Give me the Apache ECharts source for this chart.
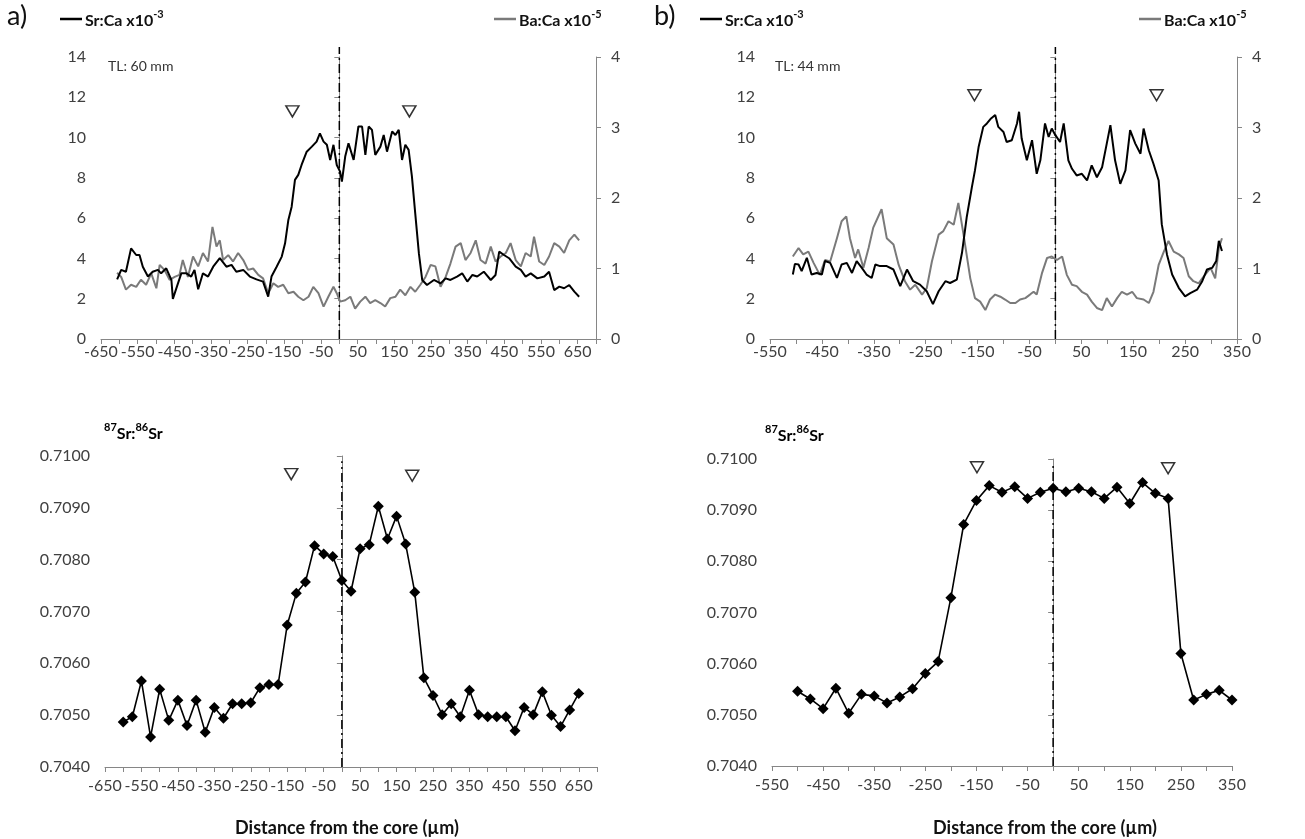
<!DOCTYPE html>
<html style="height: 100%">
  <head>
    <meta charset="utf-8">
  </head>
  <body style="height: 100%; margin: 0; background: #fff">
    <div id="container" style="width: 1305px; height: 839px"></div>
    <script type="text/javascript" src="https://cdn.jsdelivr.net/npm/echarts@6.0.0/dist/echarts.min.js"></script>
    <script type="text/javascript">
// ---- panel a (TL 60 mm) : laser trace ----
var srDistA = [-606,-595,-582,-568,-554,-545,-536,-522,-509,-495,-486,-472,-458,-454,-443,-431,-417,-404,-395,-385,
  -372,-358,-344,-326,-308,-294,-281,-262,-244,-226,-208,-194,-185,-171,-157,-148,-139,-130,-121,-112,
  -103,-89,-75,-62,-53,-43,-34,-25,-16,-7,2,7,16,25,39,52,62,71,80,89,98,112,121,130,144,153,162,171,180,189,
  198,207,217,226,239,258,276,290,303,321,335,349,363,376,394,413,426,436,449,463,481,495,508,522,540,559,572,586,600,613,
  627,641,654];
var srA = [2.96,3.43,3.34,4.50,4.17,4.17,3.59,3.10,3.34,3.43,3.26,3.51,2.93,1.99,2.60,3.26,3.26,3.10,3.43,2.47,
  3.26,3.10,3.59,4.01,3.59,3.68,3.34,3.43,3.10,2.96,2.85,2.10,3.10,3.59,4.09,4.75,5.91,6.57,7.90,8.15,
  8.64,9.30,9.55,9.80,10.21,9.80,9.64,8.89,9.64,8.64,8.31,7.81,9.06,9.72,8.89,10.55,10.55,9.14,10.55,10.38,
  9.14,9.55,10.13,9.30,10.30,10.13,10.38,8.89,9.64,9.39,8.06,6.24,4.25,2.93,2.68,2.93,2.76,3.01,2.93,3.10,
  3.26,2.85,3.18,3.10,3.34,2.93,3.18,4.34,4.17,4.01,3.59,3.43,3.10,3.26,3.01,3.10,3.34,2.43,2.60,2.52,
  2.68,2.35,2.10];
var baDistA = [-606,-595,-582,-568,-554,-541,-527,-513,-499,-490,-477,-463,-449,-436,-427,-413,-399,-385,-372,-358,
  -346,-335,-326,-317,-303,-290,-276,-262,-249,-235,-221,-208,-194,-180,-167,-153,-139,-125,-112,-98,
  -84,-71,-57,-43,-30,-16,-7,2,16,30,43,57,71,84,98,112,125,139,153,166,180,194,207,221,235,249,262,276,290,303,
  317,331,344,358,372,385,399,413,426,440,454,467,481,495,508,522,531,545,559,572,586,600,613,627,641,654];
var baA = [0.94,0.88,0.70,0.77,0.74,0.84,0.77,0.93,0.72,1.05,0.98,0.84,0.88,0.91,1.12,0.88,1.17,1.03,1.22,1.10,
  1.59,1.31,1.40,1.12,1.19,1.10,1.22,1.12,0.98,1.00,0.91,0.86,0.65,0.79,0.74,0.77,0.65,0.67,0.60,0.55,
  0.60,0.74,0.65,0.46,0.60,0.74,0.65,0.53,0.55,0.60,0.43,0.53,0.60,0.51,0.55,0.51,0.46,0.58,0.60,0.70,
  0.62,0.74,0.67,0.77,0.88,1.05,1.03,0.74,0.88,1.07,1.31,1.36,1.12,1.22,1.40,1.12,1.07,1.31,1.10,1.17,
  1.22,1.36,1.12,1.03,1.22,1.17,1.45,1.10,1.05,1.17,1.36,1.31,1.22,1.40,1.48,1.40];

// ---- panel b (TL 44 mm) : laser trace ----
var srDistB = [-506,-502,-495,-489,-479,-470,-460,-450,-444,-434,-421,-412,-402,-392,-383,-373,-364,-354,-347,-338,
  -325,-312,-299,-286,-274,-261,-248,-236,-225,-212,-203,-190,-180,-171,-161,-155,-148,-139,-132,-124,
  -116,-110,-100,-94,-84,-74,-70,-65,-55,-45,-36,-29,-20,-13,-7,0,9,16,25,32,41,51,61,70,80,90,99,106,115,125,
  135,144,154,164,170,180,189,199,205,215,225,238,250,260,273,283,292,302,310,315,321];
var srB = [3.20,3.73,3.70,3.37,4.03,3.20,3.28,3.20,3.87,3.78,3.03,3.70,3.78,3.28,3.87,3.53,3.20,3.03,3.70,3.62,
  3.62,3.45,2.62,3.45,2.87,2.70,2.37,1.73,2.37,2.87,2.78,2.95,4.28,6.03,7.53,8.37,9.53,10.53,10.70,10.95,
  11.12,10.53,10.28,9.78,9.87,10.70,11.28,9.95,8.87,9.87,8.20,8.87,10.70,10.03,10.45,10.12,9.78,10.70,8.87,8.45,
  8.12,8.20,7.87,8.62,8.03,8.53,9.70,10.62,8.87,7.70,8.37,10.37,9.70,9.20,10.45,9.37,8.70,7.87,5.70,4.20,
  3.20,2.53,2.12,2.28,2.45,2.87,3.45,3.53,3.87,4.87,4.37];
var baDistB = [-506,-495,-486,-476,-466,-454,-444,-434,-421,-412,-403,-396,-386,-380,-370,-360,-351,-335,-325,-312,
  -302,-290,-280,-270,-257,-248,-238,-225,-216,-206,-196,-187,-177,-164,-155,-145,-135,-126,-116,-106,
  -97,-87,-77,-68,-58,-49,-42,-36,-26,-16,-7,3,13,22,32,41,51,61,70,80,90,99,109,119,128,138,148,157,170,180,
  189,199,209,218,228,238,247,257,266,276,286,299,308,315,321];
var baB = [1.17,1.29,1.20,1.24,1.08,0.91,1.12,1.10,1.43,1.67,1.74,1.43,1.15,1.27,1.01,1.29,1.58,1.84,1.43,1.34,
  1.05,0.82,0.70,0.77,0.63,0.72,1.10,1.48,1.53,1.67,1.62,1.93,1.48,0.86,0.58,0.53,0.41,0.56,0.63,0.60,
  0.56,0.51,0.51,0.56,0.58,0.63,0.67,0.63,0.93,1.15,1.17,1.12,1.17,0.91,0.77,0.75,0.67,0.63,0.53,0.44,
  0.41,0.58,0.46,0.58,0.67,0.63,0.67,0.58,0.56,0.51,0.67,1.05,1.24,1.39,1.24,1.20,1.15,0.89,0.82,0.79,
  0.89,1.01,0.86,1.29,1.43];

// ---- 87Sr:86Sr spot analyses ----
var isoDistA = [-600,-575,-550,-525,-500,-475,-450,-425,-400,-375,-350,-325,-300,-275,-250,-225,-200,-175,-150,-125,
  -100,-75,-50,-25,0,25,50,75,100,125,150,175,200,225,250,275,300,325,350,375,400,425,450,475,500,525,550,575,600,625,650];
var isoA = [0.70487,0.70497,0.70566,0.70458,0.70550,0.70490,0.70529,0.70480,0.70529,0.70467,0.70515,0.70494,0.70522,0.70522,0.70524,
  0.70553,0.70559,0.70559,0.70674,0.70735,0.70757,0.70827,0.70811,0.70806,0.70760,0.70739,0.70821,0.70829,0.70903,0.70840,
  0.70884,0.70830,0.70737,0.70572,0.70538,0.70501,0.70522,0.70497,0.70548,0.70501,0.70497,0.70497,0.70497,0.70470,0.70515,
  0.70501,0.70545,0.70500,0.70478,0.70510,0.70542];
var isoDistB = [-500,-475,-450,-425,-400,-375,-350,-325,-300,-275,-250,-225,-200,-175,-150,-125,-100,-75,-50,-25,
  0,25,50,75,100,125,150,175,200,225,250,275,300,325,350];
var isoB = [0.70546,0.70531,0.70512,0.70552,0.70503,0.70540,0.70537,0.70523,0.70535,0.70551,0.70581,0.70604,0.70729,0.70872,0.70919,
  0.70948,0.70935,0.70946,0.70923,0.70935,0.70943,0.70936,0.70943,0.70936,0.70923,0.70945,0.70913,0.70954,0.70933,0.70923,
  0.70620,0.70529,0.70540,0.70548,0.70529];

// triangle markers (position, height)
var markTopA = [[-128, 11.3], [191, 11.3]];
var markTopB = [[-156, 12.1], [195, 12.1]];
var markIsoA = [[-139, 0.70965], [193, 0.70962]];
var markIsoB = [[-149, 0.70984], [225, 0.70982]];

// tick labels
var ticksA = [-650,-550,-450,-350,-250,-150,-50,50,150,250,350,450,550,650];
var ticksB = [-550,-450,-350,-250,-150,-50,50,150,250,350];

function pairs(xs, ys) {
  return xs.map(function (x, i) { return [x, ys[i]]; });
}

var FONT = 'Lato';
var axisGray = '#868686';
var lblColor = '#404040';

function xAxisFor(grid, min, max, labels, margin) {
  return {
    type: 'value', gridIndex: grid, min: min, max: max, interval: 50,
    axisLine: { onZero: false, lineStyle: { color: axisGray } },
    axisTick: { length: 5, lineStyle: { color: axisGray } },
    splitLine: { show: false },
    axisLabel: {
      color: lblColor, fontSize: 16, fontFamily: FONT, margin: margin,
      formatter: function (v) { return labels.indexOf(v) >= 0 ? String(v) : ''; }
    }
  };
}
function yAxisFor(grid, min, max, interval, pos, fmt) {
  return {
    type: 'value', gridIndex: grid, min: min, max: max, interval: interval, position: pos,
    axisLine: { show: true, lineStyle: { color: axisGray } },
    axisTick: { show: true, length: 5, lineStyle: { color: axisGray } },
    splitLine: { show: false },
    axisLabel: { color: lblColor, fontSize: 16, fontFamily: FONT, margin: pos === 'right' ? 15 : 15, formatter: fmt }
  };
}

var coreLine = { type: [9, 4, 2, 4], color: '#000', width: 1.5 };
function core(xi, yi, y0, y1) {
  return {
    type: 'line', xAxisIndex: xi, yAxisIndex: yi, data: [[0, y0], [0, y1]],
    symbol: 'none', clip: false, silent: true, lineStyle: coreLine, z: 1
  };
}
function marks(xi, yi, data) {
  return {
    type: 'scatter', xAxisIndex: xi, yAxisIndex: yi, data: data, symbol: 'triangle',
    symbolRotate: 180, symbolSize: [13, 11], silent: true,
    itemStyle: { color: '#fff', borderColor: '#000', borderWidth: 1.5 }, z: 5
  };
}
function trace(name, xi, yi, data, color) {
  return {
    name: name, type: 'line', xAxisIndex: xi, yAxisIndex: yi, data: data, color: color,
    symbol: 'none', lineStyle: { color: color, width: 2 }, silent: true
  };
}
function iso(xi, yi, data) {
  return {
    type: 'line', xAxisIndex: xi, yAxisIndex: yi, data: data, color: '#000',
    symbol: 'diamond', symbolSize: 11, lineStyle: { color: '#000', width: 1.6 },
    itemStyle: { color: '#000' }, silent: true, z: 3
  };
}

var legendNames = {
  'Sr a': '{b|Sr:Ca x10}{s|-3}', 'Ba a': '{b|Ba:Ca x10}{s|-5}',
  'Sr b': '{b|Sr:Ca x10}{s|-3}', 'Ba b': '{b|Ba:Ca x10}{s|-5}'
};
var richSup = {
  b: { fontFamily: FONT, fontWeight: 'bold', fontSize: 16, color: '#111', lineHeight: 20, verticalAlign: 'bottom' },
  s: { fontFamily: FONT, fontWeight: 'bold', fontSize: 11, color: '#111', lineHeight: 20, verticalAlign: 'top' }
};
function legendAt(name, left) {
  return {
    data: [name], left: left, top: 9, icon: 'rect', itemWidth: 22, itemHeight: 2.5, itemGap: 4,
    selectedMode: false, padding: 0,
    formatter: function (n) { return legendNames[n]; },
    textStyle: { rich: richSup, padding: [0, 0, 0, -2] }
  };
}

var dom = document.getElementById('container');
var myChart = echarts.init(dom, null, { renderer: 'canvas' });

var option = {
  backgroundColor: '#fff',
  animation: false,
  grid: [
    { left: 101, top: 57, width: 495, height: 282 },
    { left: 770, top: 57, width: 467, height: 282 },
    { left: 105, top: 456, width: 492, height: 311 },
    { left: 772, top: 459, width: 460, height: 307 }
  ],
  xAxis: [
    xAxisFor(0, -650, 700, ticksA, 5),
    xAxisFor(1, -550, 350, ticksB, 5),
    xAxisFor(2, -650, 700, ticksA, 11),
    xAxisFor(3, -550, 350, ticksB, 11)
  ],
  yAxis: [
    yAxisFor(0, 0, 14, 2, 'left'),
    yAxisFor(0, 0, 4, 1, 'right'),
    yAxisFor(1, 0, 14, 2, 'left'),
    yAxisFor(1, 0, 4, 1, 'right'),
    yAxisFor(2, 0.704, 0.710, 0.001, 'left', function (v) { return v.toFixed(4); }),
    yAxisFor(3, 0.704, 0.710, 0.001, 'left', function (v) { return v.toFixed(4); })
  ],
  legend: [legendAt('Sr a', 60), legendAt('Ba a', 494), legendAt('Sr b', 700), legendAt('Ba b', 1139)],
  graphic: [
    { type: 'text', left: 7, top: 3, style: { text: 'a)', font: '27px ' + FONT, fill: '#111' } },
    { type: 'text', left: 654, top: 3, style: { text: 'b)', font: '27px ' + FONT, fill: '#111' } },
    { type: 'text', left: 108, top: 59, style: { text: 'TL: 60 mm', font: '14px ' + FONT, fill: '#333' } },
    { type: 'text', left: 775, top: 59, style: { text: 'TL: 44 mm', font: '14px ' + FONT, fill: '#333' } },
    { type: 'text', left: 104, top: 422, style: { text: '{s|87}{b|Sr:}{s|86}{b|Sr}', rich: richSup } },
    { type: 'text', left: 765, top: 424, style: { text: '{s|87}{b|Sr:}{s|86}{b|Sr}', rich: richSup } },
    { type: 'text', x: 347, y: 828, style: { text: 'Distance from the core (\u00b5m)', font: 'bold 18px ' + FONT, fill: '#111', align: 'center', verticalAlign: 'middle' } },
    { type: 'text', x: 1045, y: 828, style: { text: 'Distance from the core (\u00b5m)', font: 'bold 18px ' + FONT, fill: '#111', align: 'center', verticalAlign: 'middle' } }
  ],
  series: [
    core(0, 0, 0, 14.5),
    trace('Ba a', 0, 1, pairs(baDistA, baA), '#7a7a7a'),
    trace('Sr a', 0, 0, pairs(srDistA, srA), '#000'),
    marks(0, 0, markTopA),
    core(1, 2, 0, 14.5),
    trace('Ba b', 1, 3, pairs(baDistB, baB), '#7a7a7a'),
    trace('Sr b', 1, 2, pairs(srDistB, srB), '#000'),
    marks(1, 2, markTopB),
    core(2, 4, 0.704, 0.7099),
    iso(2, 4, pairs(isoDistA, isoA)),
    marks(2, 4, markIsoA),
    core(3, 5, 0.704, 0.70988),
    iso(3, 5, pairs(isoDistB, isoB)),
    marks(3, 5, markIsoB)
  ]
};

if (option && typeof option === 'object') {
  myChart.setOption(option, true);
}
    </script>
  </body>
</html>
